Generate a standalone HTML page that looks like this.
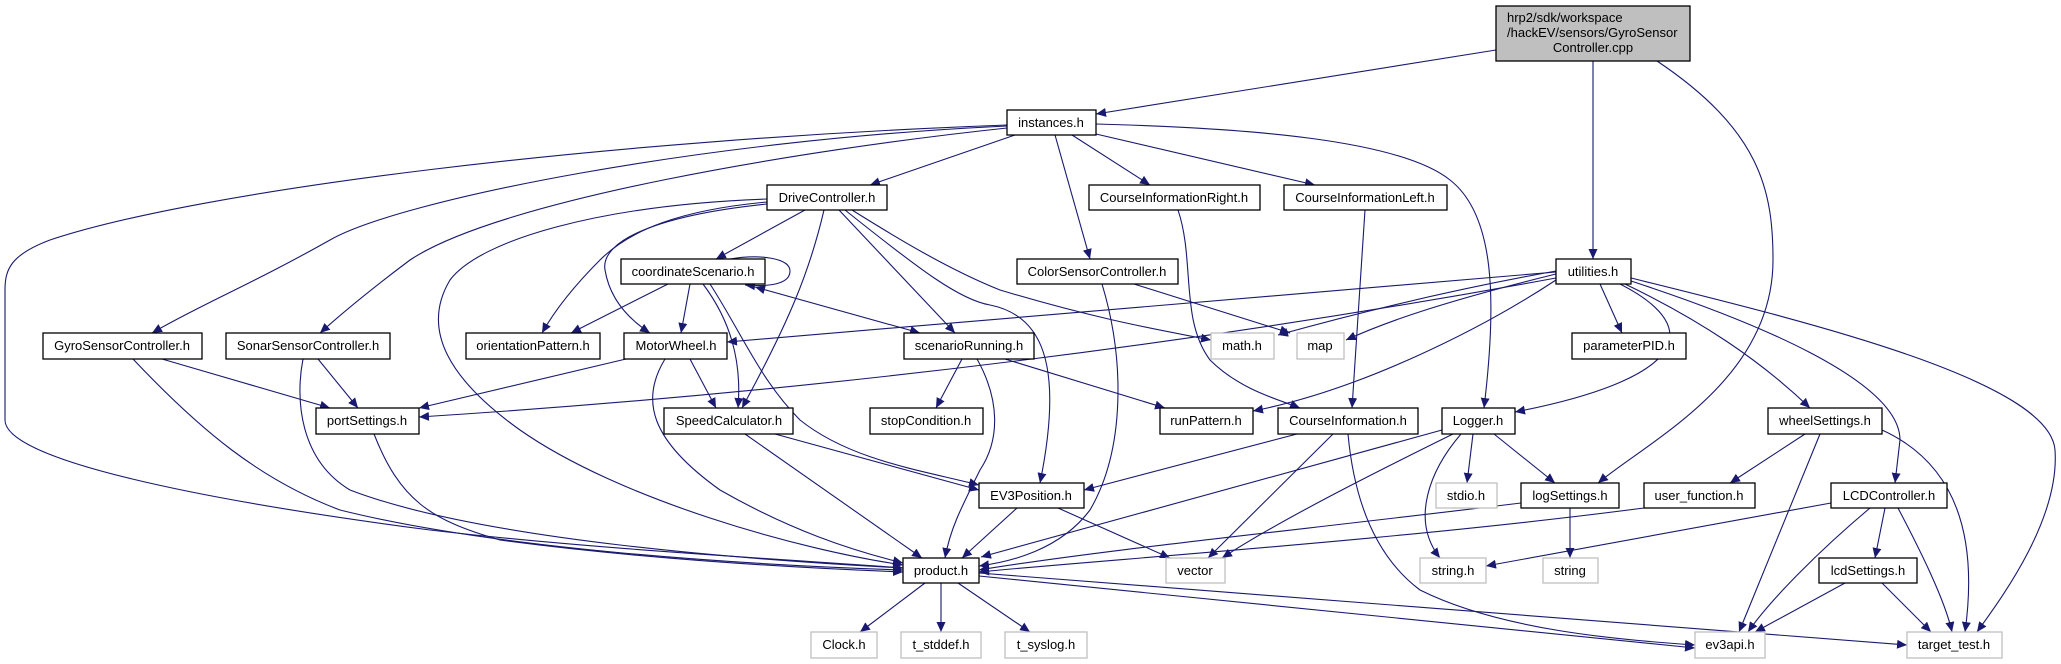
<!DOCTYPE html>
<html><head><meta charset="utf-8"><style>
html,body{margin:0;padding:0;background:#fff;}
svg{display:block;}
text{font-family:"Liberation Sans",Arial,sans-serif;font-size:13px;fill:#000;}
.n{fill:#fff;stroke:#000;stroke-width:1.3;}
.g{fill:#fff;stroke:#bfbfbf;stroke-width:1.3;}
.e{fill:none;stroke:#191970;stroke-width:1.1;}
</style></head><body>
<svg width="2061" height="664" viewBox="0 0 2061 664" xmlns="http://www.w3.org/2000/svg">
<defs>
<marker id="a" markerUnits="userSpaceOnUse" markerWidth="11" markerHeight="9" refX="10" refY="4.5" orient="auto"><path d="M0,0 L10,4.5 L0,9 z" fill="#191970"/></marker>
<marker id="s" markerUnits="userSpaceOnUse" markerWidth="11" markerHeight="9" refX="0" refY="4.5" orient="auto"><path d="M10,0 L0,4.5 L10,9 z" fill="#191970"/></marker>
</defs>
<g marker-end="url(#a)">
<path class="e" d="M1496,50 L1096,114"/>
<path class="e" d="M1593,61 L1593,259"/>
<path class="e" d="M1657,61 C1760,130 1773,190 1773,260 C1773,380 1650,440 1598,483"/>
<path class="e" d="M1015,135 L870,185"/>
<path class="e" d="M1072,135 L1150,185"/>
<path class="e" d="M1096,134 L1315,185"/>
<path class="e" d="M1055,135 L1090,259"/>
<path class="e" d="M1096,124 C1250,128 1400,140 1450,180 C1495,215 1497,300 1484,408"/>
<path class="e" d="M1007,126 C700,140 400,200 330,240 C250,285 200,305 152,333"/>
<path class="e" d="M1007,128 C800,150 500,200 410,260 C370,290 340,315 320,333"/>
<path class="e" d="M1007,125 C600,140 200,190 50,240 C10,255 5,270 5,290 L5,420 C5,460 200,500 430,530 C600,550 800,560 903,568"/>
<path class="e" d="M805,210 L716,259"/>
<path class="e" d="M730,259 C760,254 790,258 790,271 C790,284 770,287 745,285"/>
<path class="e" d="M767,202 C680,210 630,230 600,260 C575,285 555,310 542,333"/>
<path class="e" d="M767,204 C660,215 600,240 605,270 C610,300 630,320 650,333"/>
<path class="e" d="M767,199 C600,205 480,240 450,280 C420,330 450,380 520,430 C620,500 800,550 903,565"/>
<path class="e" d="M824,210 C810,270 790,320 742,408"/>
<path class="e" d="M839,210 L955,333"/>
<path class="e" d="M845,210 C920,270 960,300 990,305 C1040,315 1065,360 1040,483"/>
<path class="e" d="M852,210 C900,240 950,270 1000,290 C1100,320 1160,330 1211,340"/>
<path class="e" d="M668,284 L571,333"/>
<path class="e" d="M690,284 L681,333"/>
<path class="e" d="M703,284 C730,320 742,360 738,408"/>
<path class="e" d="M755,287 L920,333" marker-start="url(#s)"/>
<path class="e" d="M710,284 C740,330 760,380 800,420 C850,460 920,470 979,485"/>
<path class="e" d="M775,434 L979,490"/>
<path class="e" d="M745,434 L922,558"/>
<path class="e" d="M665,359 C640,400 650,440 720,490 C790,530 850,550 903,563"/>
<path class="e" d="M690,359 L716,408"/>
<path class="e" d="M626,359 L419,408"/>
<path class="e" d="M1556,278 Q1000,380 419,417"/>
<path class="e" d="M1556,272 Q1100,310 727,342"/>
<path class="e" d="M1134,284 L1290,333"/>
<path class="e" d="M1556,271 C1450,290 1350,315 1278,335"/>
<path class="e" d="M1556,274 C1450,300 1390,320 1346,340"/>
<path class="e" d="M1556,280 C1480,330 1360,390 1253,411"/>
<path class="e" d="M1600,284 L1622,333"/>
<path class="e" d="M1620,284 C1710,330 1680,380 1515,412"/>
<path class="e" d="M1625,284 C1700,320 1760,360 1810,408"/>
<path class="e" d="M1631,281 C1750,320 1900,380 1900,440 L1895,483"/>
<path class="e" d="M1631,278 C1800,320 2050,380 2055,450 C2060,520 2000,600 1977,632"/>
<path class="e" d="M1178,210 C1195,260 1180,320 1210,360 C1240,390 1280,400 1300,408"/>
<path class="e" d="M1365,210 L1352,408"/>
<path class="e" d="M1102,284 C1125,360 1125,450 1090,510 C1060,550 1010,562 979,566"/>
<path class="e" d="M962,359 L936,408"/>
<path class="e" d="M1005,359 L1165,408"/>
<path class="e" d="M977,359 C1000,400 1000,440 980,470 C960,510 950,530 945,558"/>
<path class="e" d="M1297,434 L1084,490"/>
<path class="e" d="M1333,434 L1208,558"/>
<path class="e" d="M1348,434 C1355,510 1380,560 1420,590 C1500,630 1620,640 1695,645"/>
<path class="e" d="M1442,430 L981,557"/>
<path class="e" d="M1453,434 C1380,470 1280,520 1222,558"/>
<path class="e" d="M1473,434 L1467,483"/>
<path class="e" d="M1494,434 L1555,483"/>
<path class="e" d="M1461,434 C1430,470 1410,520 1440,558"/>
<path class="e" d="M1521,503 C1300,530 1100,550 979,570"/>
<path class="e" d="M1570,508 L1570,558"/>
<path class="e" d="M1644,508 C1400,540 1100,560 979,572"/>
<path class="e" d="M1805,434 L1730,483"/>
<path class="e" d="M1820,434 L1739,632"/>
<path class="e" d="M1882,430 C1970,470 1975,560 1965,632"/>
<path class="e" d="M1831,503 L1486,566"/>
<path class="e" d="M1870,508 C1820,550 1770,600 1748,632"/>
<path class="e" d="M1885,508 L1875,558"/>
<path class="e" d="M1898,508 C1920,550 1945,600 1952,632"/>
<path class="e" d="M1845,583 L1755,632"/>
<path class="e" d="M1882,583 L1931,632"/>
<path class="e" d="M925,583 L860,632"/>
<path class="e" d="M941,583 L941,632"/>
<path class="e" d="M958,583 L1030,632"/>
<path class="e" d="M979,576 C1300,610 1550,635 1695,648"/>
<path class="e" d="M979,573 L1907,645"/>
<path class="e" d="M1017,508 L962,558"/>
<path class="e" d="M1058,508 L1170,558"/>
<path class="e" d="M374,434 C400,500 430,520 500,540 C650,560 800,568 903,572"/>
<path class="e" d="M162,359 L330,408"/>
<path class="e" d="M133,359 C200,430 260,480 340,510 C500,550 750,565 903,570"/>
<path class="e" d="M318,359 L358,408"/>
<path class="e" d="M303,359 C295,400 300,460 350,490 C480,540 750,560 903,568"/>
</g>

<rect x="1496" y="6" width="194" height="55" fill="#bfbfbf" stroke="#000" stroke-width="1.3"/>
<text x="1507" y="22">hrp2/sdk/workspace</text>
<text x="1507" y="37">/hackEV/sensors/GyroSensor</text>
<text x="1593" y="52" text-anchor="middle">Controller.cpp</text>

<g text-anchor="middle">
<rect class="n" x="1007" y="110" width="89" height="25"/><text x="1051" y="127">instances.h</text>
<rect class="n" x="767" y="185" width="120" height="25"/><text x="827" y="202">DriveController.h</text>
<rect class="n" x="1089" y="185" width="171" height="25"/><text x="1174" y="202">CourseInformationRight.h</text>
<rect class="n" x="1284" y="185" width="163" height="25"/><text x="1365" y="202">CourseInformationLeft.h</text>
<rect class="n" x="1017" y="259" width="161" height="25"/><text x="1097" y="276">ColorSensorController.h</text>
<rect class="n" x="621" y="259" width="144" height="25"/><text x="693" y="276">coordinateScenario.h</text>
<rect class="n" x="1556" y="259" width="75" height="25"/><text x="1593" y="276">utilities.h</text>

<rect class="n" x="43" y="333" width="159" height="26"/><text x="122" y="350">GyroSensorController.h</text>
<rect class="n" x="226" y="333" width="164" height="26"/><text x="308" y="350">SonarSensorController.h</text>
<rect class="n" x="466" y="333" width="134" height="26"/><text x="533" y="350">orientationPattern.h</text>
<rect class="n" x="624" y="333" width="103" height="26"/><text x="676" y="350">MotorWheel.h</text>
<rect class="n" x="904" y="333" width="130" height="26"/><text x="969" y="350">scenarioRunning.h</text>
<rect class="g" x="1211" y="333" width="63" height="26"/><text x="1242" y="350">math.h</text>
<rect class="g" x="1297" y="333" width="47" height="26"/><text x="1320" y="350">map</text>
<rect class="n" x="1572" y="333" width="114" height="26"/><text x="1629" y="350">parameterPID.h</text>

<rect class="n" x="316" y="408" width="103" height="26"/><text x="367" y="425">portSettings.h</text>
<rect class="n" x="664" y="408" width="129" height="26"/><text x="729" y="425">SpeedCalculator.h</text>
<rect class="n" x="870" y="408" width="113" height="26"/><text x="926" y="425">stopCondition.h</text>
<rect class="n" x="1160" y="408" width="93" height="26"/><text x="1206" y="425">runPattern.h</text>
<rect class="n" x="1278" y="408" width="140" height="26"/><text x="1348" y="425">CourseInformation.h</text>
<rect class="n" x="1442" y="408" width="73" height="26"/><text x="1478" y="425">Logger.h</text>
<rect class="n" x="1768" y="408" width="114" height="26"/><text x="1825" y="425">wheelSettings.h</text>

<rect class="n" x="979" y="483" width="105" height="25"/><text x="1031" y="500">EV3Position.h</text>
<rect class="g" x="1436" y="483" width="61" height="25"/><text x="1466" y="500">stdio.h</text>
<rect class="n" x="1521" y="483" width="98" height="25"/><text x="1570" y="500">logSettings.h</text>
<rect class="n" x="1644" y="483" width="111" height="25"/><text x="1699" y="500">user_function.h</text>
<rect class="n" x="1831" y="483" width="116" height="25"/><text x="1889" y="500">LCDController.h</text>

<rect class="n" x="903" y="558" width="76" height="25"/><text x="941" y="575">product.h</text>
<rect class="g" x="1166" y="558" width="59" height="25"/><text x="1195" y="575">vector</text>
<rect class="g" x="1420" y="558" width="66" height="25"/><text x="1453" y="575">string.h</text>
<rect class="g" x="1543" y="558" width="55" height="25"/><text x="1570" y="575">string</text>
<rect class="n" x="1819" y="558" width="98" height="25"/><text x="1868" y="575">lcdSettings.h</text>

<rect class="g" x="811" y="632" width="66" height="26"/><text x="844" y="649">Clock.h</text>
<rect class="g" x="901" y="632" width="80" height="26"/><text x="941" y="649">t_stddef.h</text>
<rect class="g" x="1005" y="632" width="82" height="26"/><text x="1046" y="649">t_syslog.h</text>
<rect class="g" x="1695" y="632" width="70" height="26"/><text x="1730" y="649">ev3api.h</text>
<rect class="g" x="1907" y="632" width="95" height="26"/><text x="1954" y="649">target_test.h</text>
</g>
</svg>
</body></html>
